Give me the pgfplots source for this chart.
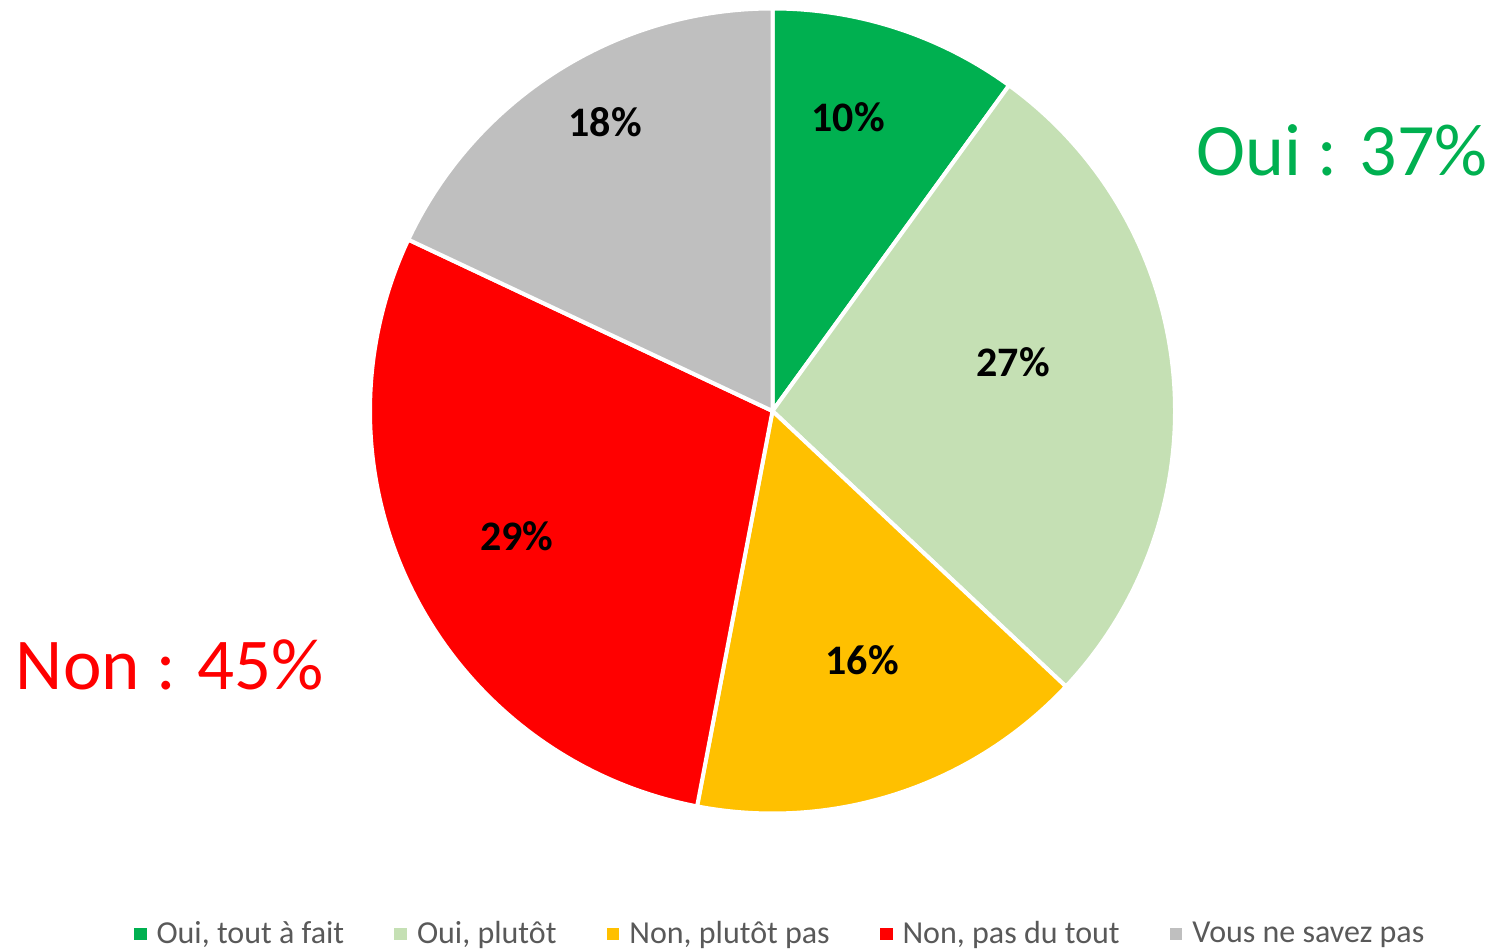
\documentclass[border=0pt]{standalone}
\usepackage{fontspec}
\setmainfont{Carlito}
\usepackage{pgfplots}
\pgfplotsset{compat=1.18}
\definecolor{c1}{HTML}{00B050}
\definecolor{c2}{HTML}{C5E0B4}
\definecolor{c3}{HTML}{FFC000}
\definecolor{c4}{HTML}{FF0000}
\definecolor{c5}{HTML}{BFBFBF}
\definecolor{legtext}{HTML}{595959}
\begin{document}
\begin{tikzpicture}
\begin{axis}[
  x=0.5pt, y=0.5pt,
  xmin=0, xmax=1493, ymin=0, ymax=949,
  hide axis, clip=false,
  legend columns=5,
  legend image code/.code={\path[#1, draw=none] (0pt,-3.2pt) rectangle (6.4pt,3.2pt);},
  legend style={draw=none, fill=none, at={(axis cs:779,15)}, anchor=center,
    font=\fontsize{16}{18}\selectfont, text=legtext,
    nodes={inner sep=0pt},
    /tikz/every odd column/.append style={column sep=5pt},
    /tikz/every even column/.append style={column sep=25pt}},
]
\addlegendimage{fill=c1}\addlegendentry{Oui, tout à fait}
\addlegendimage{fill=c2}\addlegendentry{Oui, plutôt}
\addlegendimage{fill=c3}\addlegendentry{Non, plutôt pas}
\addlegendimage{fill=c4}\addlegendentry{Non, pas du tout}
\addlegendimage{fill=c5}\addlegendentry{Vous ne savez pas}

% pie slices: 10, 27, 16, 29, 18 (%), clockwise from top
\filldraw[fill=c1, draw=white, line width=2pt] (axis cs:772.5,538) -- ++(90:201.25pt) arc[start angle=90, delta angle=-3.6*10, radius=201.25pt] -- cycle;
\filldraw[fill=c2, draw=white, line width=2pt] (axis cs:772.5,538) -- ++(90-3.6*10:201.25pt) arc[start angle=90-3.6*10, delta angle=-3.6*27, radius=201.25pt] -- cycle;
\filldraw[fill=c3, draw=white, line width=2pt] (axis cs:772.5,538) -- ++(90-3.6*37:201.25pt) arc[start angle=90-3.6*37, delta angle=-3.6*16, radius=201.25pt] -- cycle;
\filldraw[fill=c4, draw=white, line width=2pt] (axis cs:772.5,538) -- ++(90-3.6*53:201.25pt) arc[start angle=90-3.6*53, delta angle=-3.6*29, radius=201.25pt] -- cycle;
\filldraw[fill=c5, draw=white, line width=2pt] (axis cs:772.5,538) -- ++(90-3.6*82:201.25pt) arc[start angle=90-3.6*82, delta angle=-3.6*18, radius=201.25pt] -- cycle;

\node[font=\bfseries\fontsize{21}{24}\selectfont] at (axis cs:848,832) {10\%};
\node[font=\bfseries\fontsize{21}{24}\selectfont] at (axis cs:1013,587) {27\%};
\node[font=\bfseries\fontsize{21}{24}\selectfont] at (axis cs:862,289) {16\%};
\node[font=\bfseries\fontsize{21}{24}\selectfont] at (axis cs:517,413) {29\%};
\node[font=\bfseries\fontsize{21}{24}\selectfont] at (axis cs:605,827) {18\%};

\node[text=c1, font=\fontsize{37}{44}\selectfont] at (axis cs:1342,799) {Oui : 37\%};
\node[text=c4, font=\fontsize{36.5}{44}\selectfont] at (axis cs:170,284) {Non : 45\%};
\end{axis}
\pgfresetboundingbox
\path[use as bounding box] (current axis.south west) rectangle (current axis.north east);
\end{tikzpicture}
\end{document}
